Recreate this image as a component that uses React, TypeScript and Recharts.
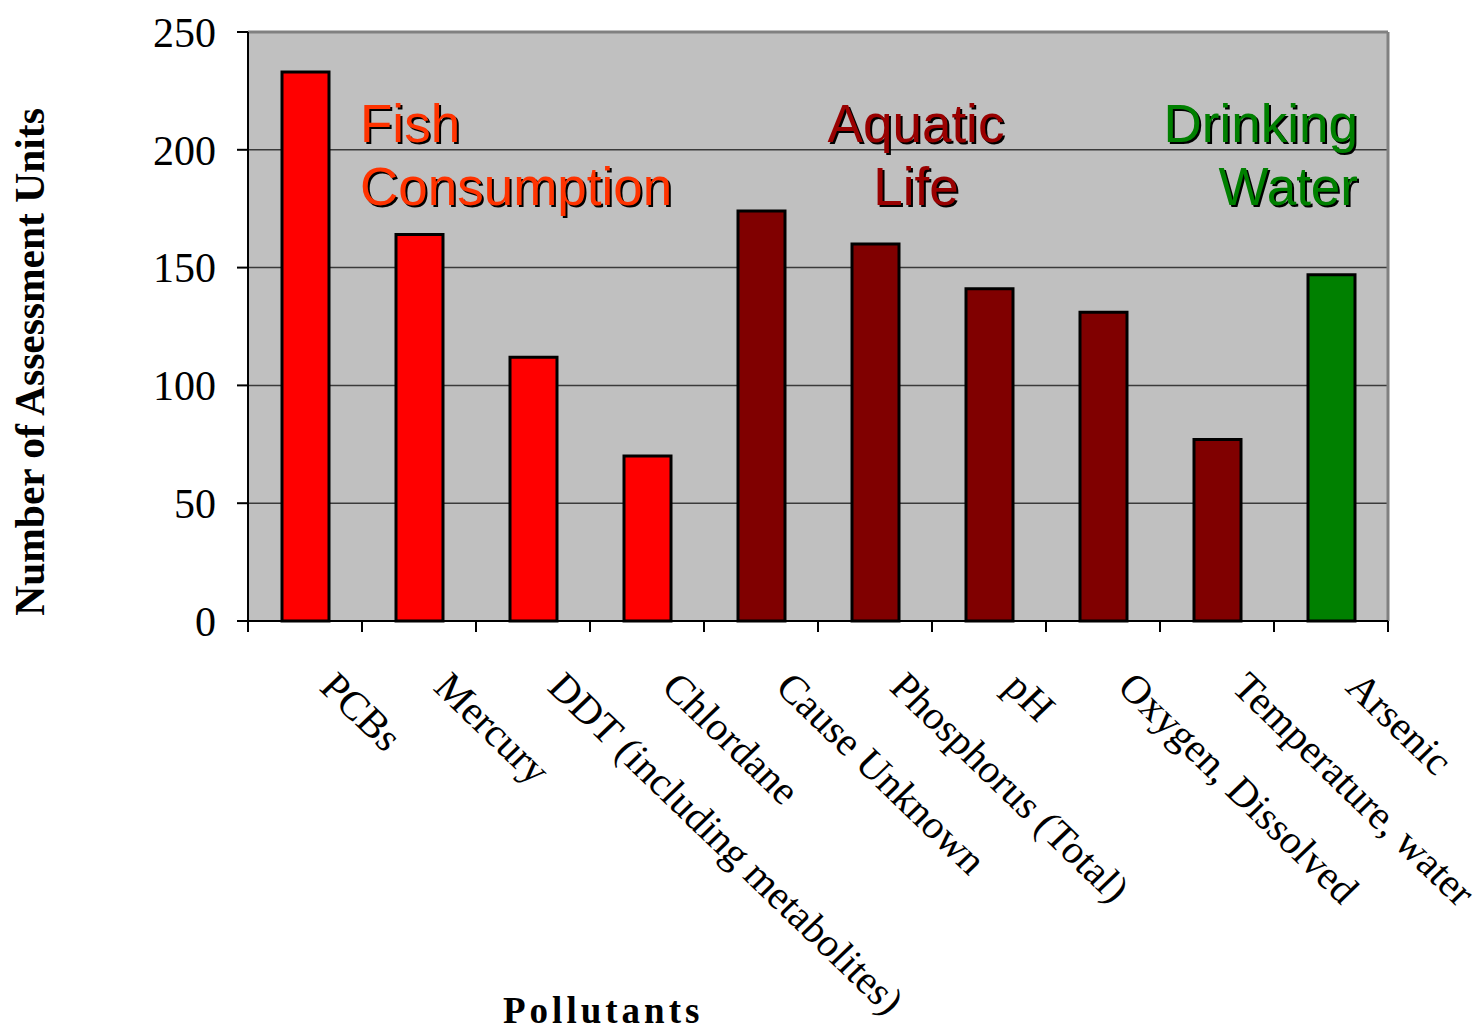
import React from 'react';
import { BarChart, Bar, XAxis, YAxis, CartesianGrid, Cell, Customized, ReferenceLine } from 'recharts';

const categories = [
  'PCBs',
  'Mercury',
  'DDT (including metabolites)',
  'Chlordane',
  'Cause Unknown',
  'Phosphorus (Total)',
  'pH',
  'Oxygen, Dissolved',
  'Temperature, water',
  'Arsenic',
];
const counts = [233, 164, 112, 70, 174, 160, 141, 131, 77, 147];
const groups = ['fish', 'fish', 'fish', 'fish', 'aquatic', 'aquatic', 'aquatic', 'aquatic', 'aquatic', 'drinking'];
const yTicks = [0, 50, 100, 150, 200, 250];

const groupColors: Record<string, string> = {
  fish: '#FF0000',
  aquatic: '#800000',
  drinking: '#008000',
};

const data = categories.map((name, i) => ({ name, count: counts[i], group: groups[i] }));

const CHART_W = 1484;
const CHART_H = 1032;
const MARGIN = { top: 32, right: 96, bottom: 0, left: 0 };
const Y_AXIS_W = 248;
const PLOT_W = CHART_W - MARGIN.left - MARGIN.right - Y_AXIS_W;
const BAND_W = PLOT_W / categories.length;

const SERIF = '"Liberation Serif", "Times New Roman", serif';
const SANS = '"Liberation Sans", Arial, sans-serif';

const XTick = (props: any) => {
  const { x, y, payload, index } = props;
  const bx = x + 13;
  const by = y + 68;
  const left = x - BAND_W / 2;
  const right = x + BAND_W / 2;
  return (
    <g>
      <line x1={left} x2={left} y1={y} y2={y + 11} stroke="#000" strokeWidth={2} />
      {index === categories.length - 1 && (
        <line x1={right} x2={right} y1={y} y2={y + 11} stroke="#000" strokeWidth={2} />
      )}
      <text
        x={0}
        y={0}
        transform={`translate(${bx}, ${by}) scale(1.04, 1) rotate(45)`}
        fontFamily={SERIF}
        fontSize={40}
        fill="#000"
        textAnchor="start"
      >
        {payload.value}
      </text>
    </g>
  );
};

const YTick = (props: any) => {
  const { x, y, payload } = props;
  return (
    <text x={x} y={y} dy="0.35em" fontFamily={SERIF} fontSize={42} fill="#000" textAnchor="end">
      {payload.value}
    </text>
  );
};

const ShadowText = ({ x, y, anchor, color, children }: any) => (
  <g>
    <text x={x + 2} y={y + 2} textAnchor={anchor} fontFamily={SANS} fontSize={53} fill="#000">
      {children}
    </text>
    <text x={x} y={y} textAnchor={anchor} fontFamily={SANS} fontSize={53} fill={color}>
      {children}
    </text>
  </g>
);

const Annotations = () => (
  <g>
    <ShadowText x={360} y={142} anchor="start" color="#FF3300">Fish</ShadowText>
    <ShadowText x={360} y={205} anchor="start" color="#FF3300">Consumption</ShadowText>
    <ShadowText x={916} y={142} anchor="middle" color="#990000">Aquatic</ShadowText>
    <ShadowText x={916} y={205} anchor="middle" color="#990000">Life</ShadowText>
    <ShadowText x={1358} y={142} anchor="end" color="#008000">Drinking</ShadowText>
    <ShadowText x={1358} y={205} anchor="end" color="#008000">Water</ShadowText>
    <text
      x={44}
      y={362}
      transform="rotate(-90, 44, 362)"
      textAnchor="middle"
      fontFamily={SERIF}
      fontWeight="bold"
      fontSize={41.5}
      fill="#000"
    >
      Number of Assessment Units
    </text>
    <text
      x={503}
      y={1023}
      textAnchor="start"
      fontFamily={SERIF}
      fontWeight="bold"
      fontSize={37}
      letterSpacing={4}
      fill="#000"
    >
      Pollutants
    </text>
  </g>
);

export default function App() {
  return (
    <div style={{ position: 'absolute', left: 0, top: 0, width: CHART_W, height: CHART_H, background: '#fff' }}>
      <BarChart width={CHART_W} height={CHART_H} data={data} margin={MARGIN}>
        <CartesianGrid vertical={false} fill="#C0C0C0" stroke="#3a3a3a" strokeWidth={1.5} />
        <XAxis
          dataKey="name"
          type="category"
          interval={0}
          height={411}
          axisLine={{ stroke: '#000', strokeWidth: 2 }}
          tickLine={false}
          tickSize={0}
          tickMargin={0}
          tick={<XTick />}
        />
        <YAxis
          domain={[0, 250]}
          ticks={yTicks}
          interval={0}
          width={Y_AXIS_W}
          tickSize={11}
          tickMargin={21}
          axisLine={{ stroke: '#000', strokeWidth: 2 }}
          tickLine={{ stroke: '#000', strokeWidth: 2 }}
          tick={<YTick />}
        />
        <ReferenceLine y={250} stroke="#808080" strokeWidth={3} />
        <ReferenceLine x={categories[categories.length - 1]} position="end" stroke="#808080" strokeWidth={3} />
        <Bar dataKey="count" barSize={47} stroke="#000" strokeWidth={3} isAnimationActive={false}>
          {data.map((d, i) => (
            <Cell key={i} fill={groupColors[d.group]} />
          ))}
        </Bar>
        <Customized component={<Annotations />} />
      </BarChart>
    </div>
  );
}
